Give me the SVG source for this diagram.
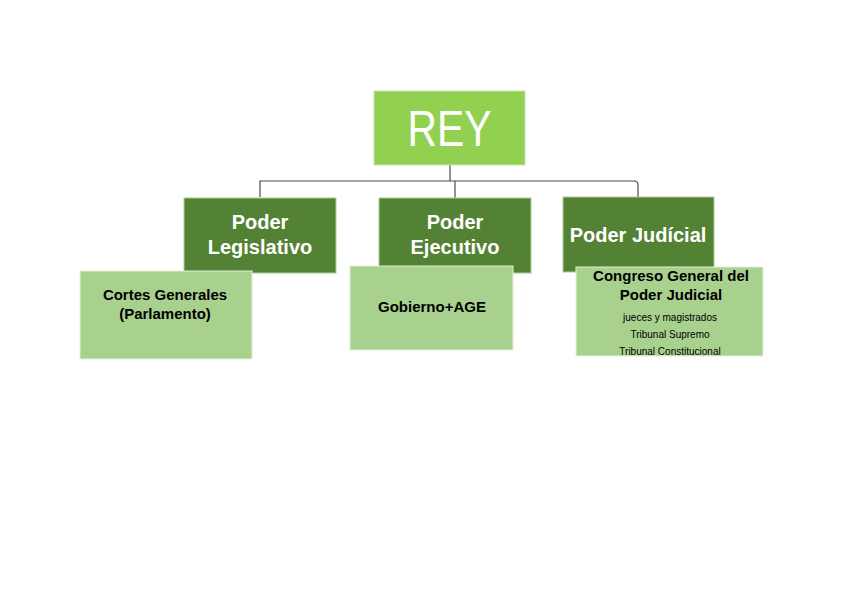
<svg xmlns="http://www.w3.org/2000/svg" width="848" height="599" viewBox="0 0 848 599">
<style>
text{font-family:"Liberation Sans",Arial,sans-serif;text-anchor:middle}
.rey{fill:#92D050;stroke:#C5E0B4;stroke-width:1}
.dark{fill:#548235;stroke:#A9D18E;stroke-width:1}
.light{fill:#A9D18E;stroke:#E2F0D9;stroke-width:1}
.wt{fill:#fff;font-weight:bold;font-size:20px}
.bt{fill:#000;font-weight:bold;font-size:15px}
.st{fill:#000;font-size:10px}
.conn{fill:none;stroke:#4a4a4a;stroke-width:1.2}
</style>
<rect width="848" height="599" fill="#fff"/>
<g id="connectors">
<path class="conn" d="M450,165 V181"/>
<path class="conn" d="M260,197 V181 H634 Q638,181 638,185 V197"/>
<path class="conn" d="M455,181 V198"/>
</g>
<g id="rey">
<rect class="rey" x="374" y="91" width="151" height="74"/>
<text x="449.5" y="146" fill="#fff" font-size="50" textLength="84" lengthAdjust="spacingAndGlyphs">REY</text>
</g>
<g id="legislativo">
<rect class="dark" x="184" y="198" width="152" height="75"/>
<text class="wt" x="260" y="229">Poder</text>
<text class="wt" x="260" y="254">Legislativo</text>
</g>
<g id="ejecutivo">
<rect class="dark" x="379" y="198" width="152" height="75"/>
<text class="wt" x="455" y="229">Poder</text>
<text class="wt" x="455" y="254">Ejecutivo</text>
</g>
<g id="judicial">
<rect class="dark" x="563" y="197" width="151" height="75"/>
<text class="wt" x="638" y="242">Poder Judícial</text>
</g>
<g id="cortes">
<rect class="light" x="80" y="271" width="172" height="88"/>
<text class="bt" x="165" y="300">Cortes Generales</text>
<text class="bt" x="165" y="319">(Parlamento)</text>
</g>
<g id="gobierno">
<rect class="light" x="350" y="266" width="163" height="84"/>
<text class="bt" x="432" y="312" font-size="16.5">Gobierno+AGE</text>
</g>
<g id="congreso">
<rect class="light" x="576" y="267" width="187" height="89"/>
<text class="bt" x="671" y="281">Congreso General del</text>
<text class="bt" x="671" y="300">Poder Judicial</text>
<text class="st" x="670" y="321">jueces y magistrados</text>
<text class="st" x="670" y="338">Tribunal Supremo</text>
<text class="st" x="670" y="355">Tribunal Constitucional</text>
</g>
</svg>
